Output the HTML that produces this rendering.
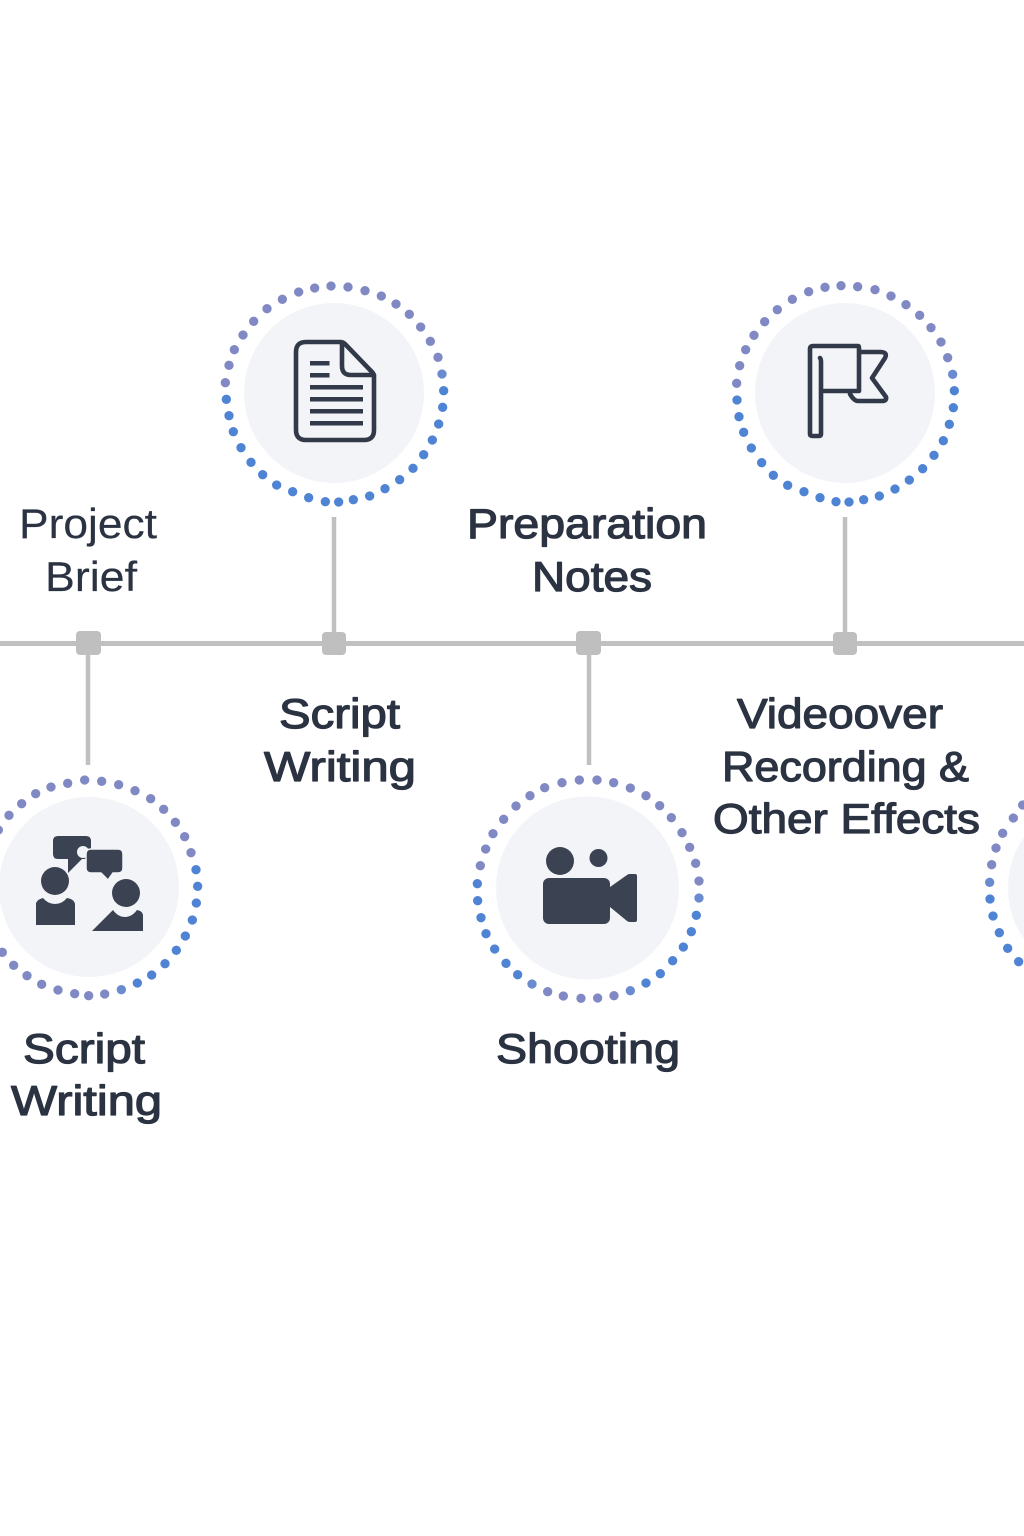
<!DOCTYPE html>
<html><head><meta charset="utf-8"><style>
html,body{margin:0;padding:0;background:#fff}
svg{display:block}
text{font-family:"Liberation Sans",sans-serif;font-size:42px;fill:#2b3342;text-anchor:start}
.m{stroke:#2b3342;stroke-width:1.2px;paint-order:stroke;stroke-linejoin:round}
.l{font-size:42px;fill:#2b3342;stroke:#2b3342;stroke-width:.2px}
.d{fill:none;stroke-width:28;stroke-linecap:round}
.p{stroke:#8089c4}.t{stroke:#6a8bd0}.b{stroke:#4f83d4}
.ln{stroke:#c0c0c0;stroke-width:4.5}
.in{fill:#f2f4f8}
.ic{fill:#3b4252}
.st{fill:none;stroke:#323949;stroke-width:4.6;stroke-linejoin:round;stroke-linecap:round}
</style></head><body>
<svg width="1024" height="1536" viewBox="0 0 1024 1536" xmlns="http://www.w3.org/2000/svg">
<rect width="1024" height="1536" fill="#fff"/>

<!-- timeline -->
<rect x="0" y="641" width="1024" height="5" fill="#c0c0c0"/>
<line class="ln" x1="88" y1="650" x2="88" y2="765"/>
<line class="ln" x1="334" y1="517" x2="334" y2="640"/>
<line class="ln" x1="589" y1="650" x2="589" y2="765"/>
<line class="ln" x1="845" y1="517" x2="845" y2="640"/>
<rect x="76" y="631" width="25" height="24" rx="4" fill="#bfbfbf"/>
<rect x="322" y="632" width="24" height="23" rx="4" fill="#bfbfbf"/>
<rect x="576" y="631" width="25" height="24" rx="4" fill="#bfbfbf"/>
<rect x="833" y="632" width="24" height="23" rx="4" fill="#bfbfbf"/>

<!-- discs -->
<circle class="in" cx="334" cy="393" r="90"/>
<circle class="in" cx="845" cy="393" r="90"/>
<circle class="in" cx="89" cy="887" r="90"/>
<circle class="in" cx="587.5" cy="888" r="91.5"/>
<circle class="in" cx="1098" cy="888" r="90"/>

<!-- dots: document -->
<g class="d" transform="translate(210 270) scale(.33333)">
<path class="p" d="M363 48h0M414 51h0M465 62h0M514 78h0M558 102h0M598 133h0M632 171h0M661 214h0M684 262h0M46 338h0M57 286h0M73 239h0M99 195h0M131 154h0M171 116h0M217 88h0M266 66h0M314 54h0"/>
<path class="t" d="M696 312h0"/>
<path class="b" d="M701 362h0M698 412h0M686 462h0M667 510h0M641 554h0M609 595h0M569 629h0M525 656h0M479 678h0M430 689h0M386 696h0M346 695h0M296 683h0M248 665h0M200 645h0M158 614h0M123 577h0M93 533h0M70 485h0M57 437h0M49 388h0"/>
</g>
<!-- dots: flag -->
<g class="d" transform="translate(725 270) scale(.33333)">
<path class="p" d="M348 47h0M398 50h0M450 59h0M498 78h0M543 104h0M584 136h0M618 173h0M648 216h0M668 263h0M35 340h0M44 287h0M62 239h0M87 196h0M119 155h0M157 119h0M202 88h0M251 65h0M300 52h0"/>
<path class="t" d="M683 313h0"/>
<path class="b" d="M688 362h0M685 413h0M673 463h0M655 512h0M627 556h0M593 596h0M553 630h0M510 657h0M463 678h0M416 689h0M372 696h0M333 695h0M285 683h0M237 665h0M188 646h0M145 616h0M110 578h0M79 534h0M56 487h0M42 440h0M36 390h0"/>
</g>
<!-- dots: people -->
<g class="d" transform="translate(0 765) scale(.33333)">
<path class="p" d="M254 45h0M305 49h0M356 59h0M405 77h0M452 101h0M491 133h0M526 172h0M554 215h0M573 263h0M-5 195h0M27 151h0M65 116h0M107 86h0M153 66h0M203 55h0M314 687h0M266 692h0M224 686h0M174 675h0M125 658h0M81 632h0M41 601h0M7 562h0"/>
<path class="b" d="M588 314h0M593 364h0M589 414h0M577 465h0M556 513h0M529 556h0M495 596h0M455 630h0M412 654h0"/>
<path class="t" d="M364 674h0"/>
</g>
<!-- dots: camera -->
<g class="d" transform="translate(465 765) scale(.33333)">
<path class="p" d="M343 45h0M396 45h0M446 53h0M496 69h0M543 92h0M584 122h0M619 158h0M651 203h0M674 247h0M692 295h0M702 348h0M46 302h0M62 252h0M84 206h0M116 163h0M153 123h0M195 92h0M239 68h0M291 53h0M447 692h0M398 699h0M348 700h0M295 693h0M248 680h0"/>
<path class="t" d="M702 399h0M496 677h0M201 657h0"/>
<path class="b" d="M694 451h0M679 500h0M655 546h0M623 587h0M586 626h0M543 654h0M158 629h0M123 595h0M89 552h0M63 506h0M48 458h0M38 407h0M37 356h0"/>
</g>
<!-- dots: right edge -->
<g class="d" transform="translate(960 780) scale(.33333)">
<path class="p" d="M188 75h0M160 114h0M128 160h0M108 204h0M95 254h0"/>
<path class="t" d="M89 307h0"/>
<path class="b" d="M90 357h0M99 408h0M118 458h0M143 505h0M176 545h0"/>
</g>

<!-- document icon -->
<path class="st" d="M306,342H340Q343,342 345,344L372,372Q374,374 374,377V430Q374,440 364,440H306Q296,440 296,430V352Q296,342 306,342Z"/>
<path class="st" d="M342,343V366Q342,375 351,375H374"/>
<g fill="#323949">
<rect x="310" y="361" width="19.500" height="4.500"/>
<rect x="310" y="373" width="19.500" height="4.500"/>
<rect x="310" y="385" width="53" height="4.500"/>
<rect x="310" y="397" width="53" height="4.500"/>
<rect x="310" y="409" width="53" height="4.500"/>
<rect x="310" y="421" width="53" height="4.500"/>
</g>

<!-- flag icon -->
<path class="st" d="M820,358Q821,359 821,362V434Q821,436 819,436H813Q810,436 810,434V349Q810,346 813,346H858Q859,346 859,348V391H822"/>
<path class="st" d="M860,352H880Q888,352 885,358L872,378L886,397Q887,401 882,401H858Q854,401 850,394"/>

<!-- people icon -->
<path class="ic" d="M58,836H86Q91,836 91,841V859L82,859L68,873V859H58Q53,859 53,854V841Q53,836 58,836Z"/>
<circle cx="83" cy="852" r="6" fill="#f2f4f8"/>
<path class="ic" d="M91,849H118Q123,849 123,854V868Q123,873 118,873H113L108,880L101,873H91Q86,873 86,868V854Q86,849 91,849Z" stroke="#f2f4f8" stroke-width="1.500"/>
<circle class="ic" cx="55" cy="881" r="14"/>
<circle class="ic" cx="126" cy="893" r="14"/>
<path class="ic" d="M36,903Q38,899 43,898Q48,904 55,904Q62,904 67,898Q74,899 75,904V925H36Z"/>
<path class="ic" d="M92,931L113,910Q118,917 125,917Q132,917 137,910Q143,911 143,916V931Z"/>

<!-- camera icon -->
<circle class="ic" cx="560" cy="861" r="14"/>
<circle class="ic" cx="598.500" cy="858" r="9"/>
<rect class="ic" x="543" y="878" width="67" height="46" rx="6"/>
<path class="ic" d="M610,887L627,875Q628,874 630,874H635Q637,874 637,876V920Q637,922 635,922H630Q628,922 627,921L610,907Z"/>

<!-- labels -->
<text class="l" x="19" y="538" textLength="138" lengthAdjust="spacingAndGlyphs">Project</text>
<text class="l" x="45" y="591" textLength="92" lengthAdjust="spacingAndGlyphs">Brief</text>
<text class="m" x="467" y="538" textLength="240" lengthAdjust="spacingAndGlyphs">Preparation</text>
<text class="m" x="532" y="591" textLength="120" lengthAdjust="spacingAndGlyphs">Notes</text>
<text class="m" x="279" y="728" textLength="121" lengthAdjust="spacingAndGlyphs">Script</text>
<text class="m" x="264" y="781" textLength="152" lengthAdjust="spacingAndGlyphs">Writing</text>
<text class="m" x="737" y="728" textLength="206" lengthAdjust="spacingAndGlyphs">Videoover</text>
<text class="m" x="722" y="781" textLength="247" lengthAdjust="spacingAndGlyphs">Recording &amp;</text>
<text class="m" x="713" y="833" textLength="267" lengthAdjust="spacingAndGlyphs">Other Effects</text>
<text class="m" x="23" y="1063" textLength="122" lengthAdjust="spacingAndGlyphs">Script</text>
<text class="m" x="11" y="1115" textLength="151" lengthAdjust="spacingAndGlyphs">Writing</text>
<text class="m" x="496" y="1063" textLength="184" lengthAdjust="spacingAndGlyphs">Shooting</text>
</svg>
</body></html>
